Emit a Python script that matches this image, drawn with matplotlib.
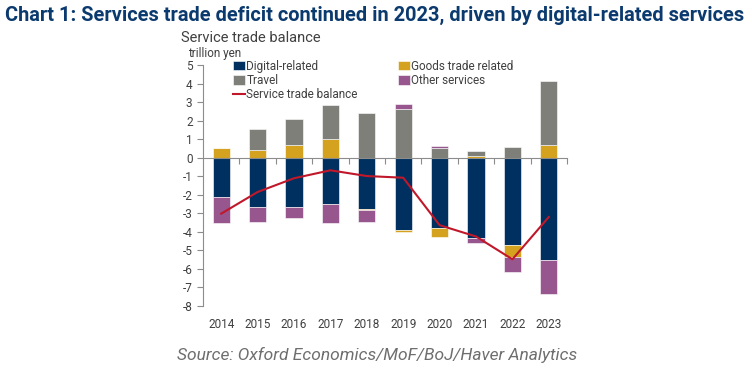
import matplotlib
matplotlib.use("Agg")
import matplotlib.pyplot as plt
import numpy as np

plt.rcParams["font.family"] = ["Roboto", "DejaVu Sans"]
plt.rcParams["axes.unicode_minus"] = False

years = ["2014", "2015", "2016", "2017", "2018", "2019", "2020", "2021", "2022", "2023"]
digital = [-2.12, -2.64, -2.64, -2.51, -2.75, -3.90, -3.81, -4.34, -4.72, -5.51]
goods = [0.50, 0.41, 0.68, 1.01, -0.06, -0.10, -0.46, 0.07, -0.63, 0.68]
travel = [0.0, 1.12, 1.39, 1.83, 2.43, 2.63, 0.50, 0.27, 0.59, 3.46]
other = [-1.42, -0.81, -0.59, -1.03, -0.64, 0.28, 0.11, -0.27, -0.81, -1.85]
balance = [-3.02, -1.85, -1.11, -0.68, -0.99, -1.08, -3.64, -4.25, -5.48, -3.20]

C_DIG = "#00305F"
C_GOODS = "#D4A21F"
C_TRAVEL = "#7F7F79"
C_OTHER = "#98568F"
C_LINE = "#C0182A"
TXT = "#404040"

fig = plt.figure(figsize=(7.52, 3.73), dpi=100)
ax = fig.add_axes([203/752, 1-306/373, 364/752, 241/373])

x = np.arange(len(years))
w = 0.47
series = [("Digital-related", digital, C_DIG), ("Goods trade related", goods, C_GOODS),
          ("Travel", travel, C_TRAVEL), ("Other services", other, C_OTHER)]
pos = np.zeros(len(years))
neg = np.zeros(len(years))
handles = {}
for name, vals, col in series:
    v = np.array(vals)
    bottoms = np.where(v >= 0, pos, neg)
    b = ax.bar(x, v, w, bottom=bottoms, color=col, edgecolor="white", linewidth=0.4, label=name, zorder=2)
    handles[name] = b
    pos = np.where(v >= 0, pos + v, pos)
    neg = np.where(v < 0, neg + v, neg)
ln, = ax.plot(x, balance, color=C_LINE, lw=1.5, label="Service trade balance", zorder=3)

ax.set_xlim(-0.5, 9.5)
ax.set_ylim(-8, 5)
ax.set_yticks(range(-8, 6))
ax.tick_params(axis="y", labelsize=8.5, colors="#8C8C8C", labelcolor=TXT, length=4, width=0.8)
for s in ["top", "right"]:
    ax.spines[s].set_visible(False)
ax.spines["left"].set_color("#8C8C8C")
ax.spines["bottom"].set_position(("data", 0))
ax.spines["bottom"].set_color("#8C8C8C")
ax.set_xticks(np.arange(0.5, 9.6, 1.0))
ax.set_xticklabels([])
ax.tick_params(axis="x", direction="out", length=4, colors="#8C8C8C", width=0.8)

sec = ax.secondary_xaxis("bottom")
sec.set_xticks(x)
sec.set_xticklabels(years)
sec.tick_params(length=0, labelsize=8.5, labelcolor=TXT, pad=9)
sec.spines["bottom"].set_visible(False)

hs = [handles["Digital-related"], handles["Travel"], ln, handles["Goods trade related"], handles["Other services"]]
ls = ["Digital-related", "Travel", "Service trade balance", "Goods trade related", "Other services"]
leg = ax.legend(hs, ls, ncol=2, loc="upper left", bbox_to_anchor=(0.07, 1.042), frameon=False,
                fontsize=8.5, handlelength=1.0, handleheight=0.9, handletextpad=0.1,
                columnspacing=3.4, labelspacing=0.12, borderaxespad=0)
for t in leg.get_texts():
    t.set_color(TXT)

fig.text(0.007, 0.985, "Chart 1: Services trade deficit continued in 2023, driven by digital-related services",
         fontsize=14.4, fontweight="bold", color="#0B3A6E", va="top", ha="left")
fig.text(181/752, 1-38/373, "Service trade balance", fontsize=10.5, color=TXT, va="center", ha="left")
fig.text(188/752, 1-53/373, "trillion yen", fontsize=8.5, color=TXT, va="center", ha="left")
fig.text(377/752, 1-355/373, "Source: Oxford Economics/MoF/BoJ/Haver Analytics", fontsize=12.5,
         style="italic", color="#6E6E6E", va="center", ha="center")

fig.savefig("out.png", dpi=100)
